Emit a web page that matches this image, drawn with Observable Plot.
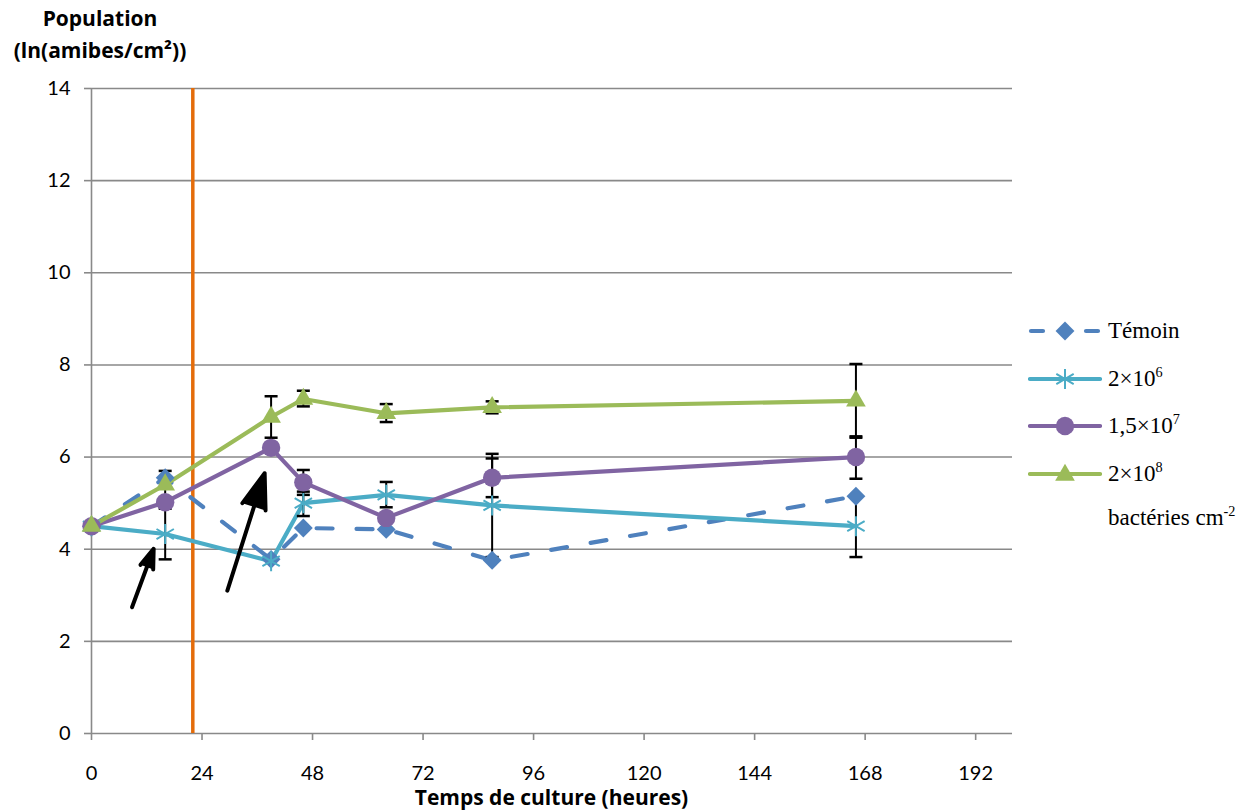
<!DOCTYPE html>
<html>
<head>
<meta charset="utf-8">
<script src="https://cdn.jsdelivr.net/npm/d3@7"></script>
<script src="https://cdn.jsdelivr.net/npm/@observablehq/plot@0.6"></script>
<style>
  body { margin: 0; background: #fff; }
  #wrap { position: relative; width: 1257px; height: 810px; overflow: hidden; font-family: "Open Sans", sans-serif; color: #000; }
  #ytitle { position: absolute; left: 0; top: 2px; width: 200px; text-align: center; font-weight: bold; font-size: 21px; line-height: 32px; }
  #xtitle { position: absolute; left: 91px; width: 921px; top: 787px; text-align: center; font-weight: bold; font-size: 21px; line-height: 21px; }
  .leg { position: absolute; left: 1028px; height: 30px; display: flex; align-items: center; font-family: "Liberation Serif", "Times New Roman", serif; font-size: 23px; white-space: nowrap; }
  .leg svg { flex: none; margin-right: 6px; }
  .leg span { display: inline-block; }
  .leg sup { font-size: 0.62em; vertical-align: 0.62em; line-height: 0; }
  #chart { position: absolute; left: 0; top: 0; }
</style>
</head>
<body>
<div id="wrap">
  <div id="chart"></div>
  <div id="ytitle">Population<br>(ln(amibes/cm²))</div>
  <div id="xtitle">Temps de culture (heures)</div>
  <div id="legend"></div>
</div>
<script>
// ---- data ----
const hours   = [0, 16, 39, 46, 64, 87, 166];
const temoin  = [4.50, 5.55, 3.78, 4.46, 4.43, 3.76, 5.15];
const bact2e6 = [4.50, 4.33, 3.74, 5.00, 5.18, 4.95, 4.50];
const bact15e7 = [4.50, 5.02, 6.20, 5.45, 4.68, 5.55, 6.00];
const bact2e8 = [4.50, 5.40, 6.87, 7.26, 6.95, 7.08, 7.22];

const seriesLabels = ["Témoin", "2×10^6", "1,5×10^7", "2×10^8"];
const seriesColors = ["#4F81BD", "#4BACC6", "#8064A2", "#9BBB59"];
const seriesSymbols = ["diamond2", "asterisk", "circle", "triangle"];
const legendUnit = "bactéries cm^-2";

// error bars (hour, low, high)
const errHours = [16, 16, 39, 46, 46, 46, 64, 64, 87, 87, 87, 166, 166, 166];
const errLow   = [3.78, 5.10, 6.42, 7.10, 5.18, 4.72, 6.76, 4.91, 6.95, 5.13, 3.83, 6.42, 5.53, 3.83];
const errHigh  = [4.88, 5.70, 7.32, 7.44, 5.72, 5.25, 7.15, 5.46, 7.21, 5.97, 6.07, 8.02, 6.45, 5.17];

// vertical marker line (hours)
const markerHour = [22];

// annotation arrows (from -> to, data units)
const arrowX1 = [8.8, 29.5];
const arrowY1 = [2.74, 3.10];
const arrowX2 = [13.5, 37.6];
const arrowY2 = [4.01, 5.65];

const xTicks = [0, 24, 48, 72, 96, 120, 144, 168, 192];
const yTicks = [0, 2, 4, 6, 8, 10, 12, 14];

// ---- tidy tables ----
const seriesValues = [temoin, bact2e6, bact15e7, bact2e8];
const rows = seriesValues.flatMap((vals, i) => hours.map((t, j) => ({series: seriesLabels[i], t, v: vals[j]})));
const errRows = errHours.map((t, i) => ({t, lo: errLow[i], hi: errHigh[i]}));
const capRows = errRows.flatMap(d => [{t: d.t, v: d.lo}, {t: d.t, v: d.hi}]);
const arrows = arrowX1.map((x, i) => ({x1: x, y1: arrowY1[i], x2: arrowX2[i], y2: arrowY2[i]}));

const capSymbol = {
  draw(context, size) {
    const r = Math.sqrt(size / Math.PI);
    context.moveTo(-r, 0);
    context.lineTo(r, 0);
  }
};

const grey = "#898989";
const tickFont = "Lato, 'Open Sans', sans-serif";
const marks = [
  Plot.gridY(yTicks, {stroke: grey, strokeOpacity: 1, strokeWidth: 1.6}),
  Plot.ruleX([0], {stroke: grey, strokeWidth: 1.6}),
  Plot.axisX({ticks: xTicks, tickSize: 7, tickPadding: 25, fontSize: 20, fontFamily: tickFont, stroke: grey, strokeWidth: 1.6, label: null, tickFormat: d => String(d)}),
  Plot.axisY({ticks: yTicks, tickSize: 7, tickPadding: 14, fontSize: 20, fontFamily: tickFont, stroke: grey, strokeWidth: 1.6, label: null, tickFormat: d => String(d)}),
  Plot.ruleX(markerHour, {stroke: "#E46C0A", strokeWidth: 3.5})
];
seriesLabels.forEach((s, i) => {
  marks.push(Plot.line(rows.filter(d => d.series === s), {
    x: "t", y: "v", stroke: seriesColors[i], strokeWidth: 4.2,
    strokeLinecap: "round", strokeLinejoin: "round",
    strokeDasharray: i === 0 ? "16,24" : null
  }));
});
marks.push(Plot.ruleX(errRows, {x: "t", y1: "lo", y2: "hi", stroke: "#000", strokeWidth: 2}));
marks.push(Plot.dot(capRows, {x: "t", y: "v", symbol: capSymbol, r: 6.5, fill: "none", stroke: "#000", strokeWidth: 2.5}));
seriesLabels.forEach((s, i) => {
  const data = rows.filter(d => d.series === s);
  const sym = seriesSymbols[i];
  if (sym === "asterisk") {
    marks.push(Plot.dot(data, {x: "t", y: "v", symbol: sym, r: 9.5, fill: "none", stroke: seriesColors[i], strokeWidth: 2}));
  } else {
    const r = sym === "diamond2" ? 8.5 : sym === "triangle" ? 7.3 : 9.2;
    marks.push(Plot.dot(data, {x: "t", y: "v", symbol: sym, r, fill: seriesColors[i], stroke: "none"}));
  }
});
marks.push(Plot.arrow(arrows, {x1: "x1", y1: "y1", x2: "x2", y2: "y2", stroke: "#000", fill: "#000", strokeWidth: 4, headLength: 14, headAngle: 38}));

const chart = Plot.plot({
  width: 1257,
  height: 810,
  marginLeft: 91,
  marginRight: 245,
  marginTop: 88,
  marginBottom: 77,
  x: {domain: [0, 200]},
  y: {domain: [0, 14]},
  style: {fontFamily: "'Open Sans', sans-serif", fontSize: "20px", color: "#000", background: "transparent", overflow: "visible"},
  marks
});
document.getElementById("chart").appendChild(chart);

// ---- legend (HTML) ----
function sup(text) {
  const k = text.indexOf("^");
  if (k < 0) return text;
  return text.slice(0, k) + "<sup>" + text.slice(k + 1) + "</sup>";
}
const legend = document.getElementById("legend");
const rowTops = [316, 364, 411, 459];
seriesLabels.forEach((s, i) => {
  const c = seriesColors[i];
  let line;
  if (i === 0) {
    line = `<line x1="3" y1="15" x2="15" y2="15" stroke="${c}" stroke-width="4.2" stroke-linecap="round"/>
            <line x1="58" y1="15" x2="70" y2="15" stroke="${c}" stroke-width="4.2" stroke-linecap="round"/>`;
  } else {
    line = `<line x1="2" y1="15" x2="72" y2="15" stroke="${c}" stroke-width="4.2" stroke-linecap="round"/>`;
  }
  let mk;
  if (seriesSymbols[i] === "asterisk") {
    mk = `<path transform="translate(37,15)" d="${d3.symbol(d3.symbolAsterisk, Math.PI * 9.5 * 9.5)()}" fill="none" stroke="${c}" stroke-width="2"/>`;
  } else if (seriesSymbols[i] === "diamond2") {
    mk = `<path transform="translate(37,15)" d="${d3.symbol(d3.symbolDiamond2, Math.PI * 8.5 * 8.5)()}" fill="${c}"/>`;
  } else if (seriesSymbols[i] === "triangle") {
    mk = `<path transform="translate(37,16)" d="${d3.symbol(d3.symbolTriangle, Math.PI * 7.3 * 7.3)()}" fill="${c}"/>`;
  } else {
    mk = `<circle cx="37" cy="15" r="9.2" fill="${c}"/>`;
  }
  const div = document.createElement("div");
  div.className = "leg";
  div.style.top = rowTops[i] + "px";
  div.innerHTML = `<svg width="74" height="30">${line}${mk}</svg><span>${sup(s)}</span>`;
  legend.appendChild(div);
});
const unit = document.createElement("div");
unit.className = "leg";
unit.style.top = "503px";
unit.style.left = "1108px";
unit.innerHTML = `<span>${sup(legendUnit)}</span>`;
legend.appendChild(unit);
</script>
</body>
</html>
